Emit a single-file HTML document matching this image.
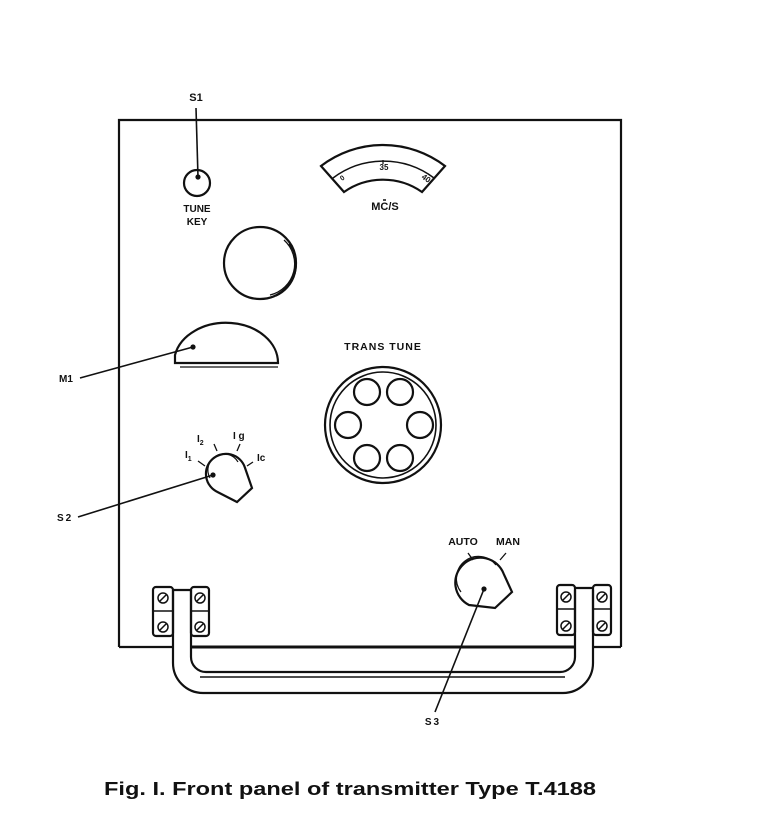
<!DOCTYPE html>
<html><head><meta charset="utf-8"><style>
html,body{margin:0;padding:0;background:#fff;}
svg{display:block}
text{font-family:"Liberation Sans",sans-serif;font-weight:bold;fill:#111}
</style></head><body>
<svg width="784" height="831" viewBox="0 0 784 831" xmlns="http://www.w3.org/2000/svg">
<g fill="none" stroke="#111" stroke-width="2.2">
<path d="M119,647 L119,120 L621,120 L621,647"/>
<line x1="119" y1="647" x2="173" y2="647"/>
<line x1="191" y1="647" x2="575" y2="647" stroke-width="3"/>
<line x1="593" y1="647" x2="621" y2="647"/>
<circle cx="197" cy="183" r="13"/>
<line x1="196" y1="108" x2="198" y2="177" stroke-width="1.6"/>
<circle cx="198" cy="177" r="1.5" fill="#111"/>
<path d="M321,166 A102,102 0 0 1 445,166 L422,192 A68,68 0 0 0 344,192 Z"/>
<path d="M333,178 A84,84 0 0 1 434,178" stroke-width="1.5"/>
<line x1="383" y1="160" x2="383" y2="164" stroke-width="1.2"/>
<line x1="383" y1="200" x2="386" y2="200" stroke-width="1.5"/>
<circle cx="260" cy="263" r="36"/>
<path d="M284,240 A32,32 0 0 1 270,295" stroke-width="1.3"/>
<path d="M289,244 A34,34 0 0 1 276,296" stroke-width="1.3"/>
<path d="M175,363 L175,355 A52,40 0 0 1 278,363 Z"/>
<line x1="180" y1="367" x2="278" y2="367" stroke-width="1.3"/>
<line x1="80" y1="378" x2="193" y2="347" stroke-width="1.6"/>
<circle cx="193" cy="347" r="1.5" fill="#111"/>
<circle cx="383" cy="425" r="58"/>
<circle cx="383" cy="425" r="53" stroke-width="1.6"/>
<circle cx="367" cy="392" r="13"/><circle cx="400" cy="392" r="13"/>
<circle cx="348" cy="425" r="13"/><circle cx="420" cy="425" r="13"/>
<circle cx="367" cy="458" r="13"/><circle cx="400" cy="458" r="13"/>
<!-- S2 -->
<path d="M217.5,492 A20,20 0 1 1 244.8,467.2 L252,488 L237,502 Z"/>
<path d="M210,478 A16,16 0 0 1 238,462" stroke-width="1.2"/>
<line x1="198" y1="461" x2="205" y2="466" stroke-width="1.3"/>
<line x1="214" y1="444" x2="217" y2="451" stroke-width="1.3"/>
<line x1="240" y1="444" x2="237" y2="451" stroke-width="1.3"/>
<line x1="253" y1="462" x2="247" y2="466" stroke-width="1.3"/>
<line x1="78" y1="517" x2="213" y2="475" stroke-width="1.6"/>
<circle cx="213" cy="475" r="1.5" fill="#111"/>
<!-- S3 -->
<path d="M469,605 A25,25 0 1 1 503.5,573.4 L512,592 L495,608 Z"/>
<path d="M461,592 A21,21 0 0 1 496,565" stroke-width="1.2"/>
<line x1="468" y1="553" x2="473" y2="560" stroke-width="1.3"/>
<line x1="506" y1="553" x2="500" y2="560" stroke-width="1.3"/>
<line x1="435" y1="712" x2="484" y2="589" stroke-width="1.6"/>
<circle cx="484" cy="589" r="1.5" fill="#111"/>
<path d="M173,590 L173,663 A30,30 0 0 0 203,693 L563,693 A30,30 0 0 0 593,663 L593,590"/>
<path d="M191,590 L191,657 A15,15 0 0 0 206,672 L560,672 A15,15 0 0 0 575,657 L575,590"/>
<line x1="200" y1="677" x2="565" y2="677" stroke-width="1.4"/>
<rect x="153" y="587" width="20" height="49" rx="3"/>
<rect x="191" y="587" width="18" height="49" rx="3"/>
<line x1="173" y1="590" x2="191" y2="590"/>
<line x1="153" y1="611" x2="173" y2="611" stroke-width="1.4"/>
<line x1="191" y1="611" x2="209" y2="611" stroke-width="1.4"/>
<rect x="557" y="585" width="18" height="50" rx="3"/>
<rect x="593" y="585" width="18" height="50" rx="3"/>
<line x1="575" y1="588" x2="593" y2="588"/>
<line x1="557" y1="609" x2="575" y2="609" stroke-width="1.4"/>
<line x1="593" y1="609" x2="611" y2="609" stroke-width="1.4"/>
<g stroke-width="1.5">
<circle cx="163" cy="598" r="5"/><line x1="160" y1="601" x2="166" y2="595"/>
<circle cx="200" cy="598" r="5"/><line x1="197" y1="601" x2="203" y2="595"/>
<circle cx="163" cy="627" r="5"/><line x1="160" y1="630" x2="166" y2="624"/>
<circle cx="200" cy="627" r="5"/><line x1="197" y1="630" x2="203" y2="624"/>
<circle cx="566" cy="597" r="5"/><line x1="563" y1="600" x2="569" y2="594"/>
<circle cx="602" cy="597" r="5"/><line x1="599" y1="600" x2="605" y2="594"/>
<circle cx="566" cy="626" r="5"/><line x1="563" y1="629" x2="569" y2="623"/>
<circle cx="602" cy="626" r="5"/><line x1="599" y1="629" x2="605" y2="623"/>
</g>
</g>
<text x="196" y="101" font-size="11" text-anchor="middle">S1</text>
<text x="197" y="212" font-size="10" text-anchor="middle">TUNE</text>
<text x="197" y="225" font-size="10" text-anchor="middle">KEY</text>
<text x="385" y="210" font-size="11" text-anchor="middle">MC/S</text>
<text x="384" y="170" font-size="8" text-anchor="middle">35</text>
<text x="342" y="181" font-size="7" transform="rotate(-35 342 181)">0</text>
<text x="421" y="178" font-size="8" transform="rotate(35 421 178)">40</text>
<text x="383" y="350" font-size="10.5" text-anchor="middle" letter-spacing="1">TRANS  TUNE</text>
<text x="59" y="382" font-size="10">M1</text>
<text x="57" y="521" font-size="10" letter-spacing="2">S2</text>
<text x="185" y="458" font-size="10">I<tspan font-size="7" dy="3">1</tspan></text>
<text x="197" y="442" font-size="10">I<tspan font-size="7" dy="3">2</tspan></text>
<text x="233" y="439" font-size="10">I g</text>
<text x="257" y="461" font-size="10">Ic</text>
<text x="463" y="545" font-size="10.5" text-anchor="middle">AUTO</text>
<text x="508" y="545" font-size="10.5" text-anchor="middle">MAN</text>
<text x="433" y="725" font-size="10" text-anchor="middle" letter-spacing="2">S3</text>
<text x="104" y="795" font-size="18" font-weight="bold" textLength="492" lengthAdjust="spacingAndGlyphs">Fig. I.   Front panel of transmitter Type T.4188</text>
</svg>
</body></html>
